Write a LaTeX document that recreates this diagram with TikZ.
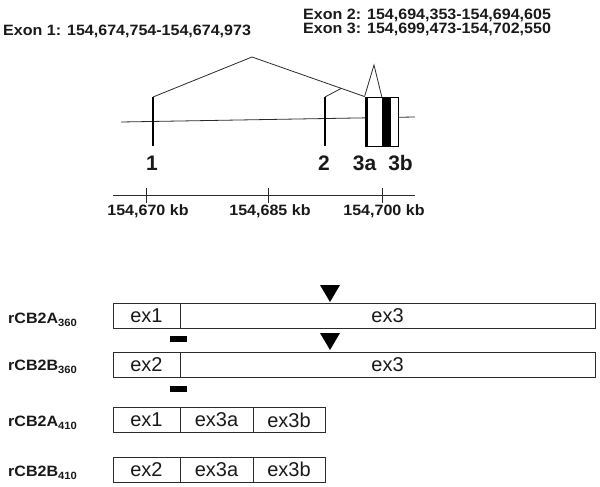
\documentclass[tikz,border=0pt]{standalone}
\usepackage{fontspec}
\setmainfont{Liberation Sans}
\newfontfamily\labelfont[FakeStretch=1.07]{Liberation Sans}
\usetikzlibrary{shapes.geometric, arrows, shapes}
\definecolor{inkgrey}{HTML}{2B2B2B}
\tikzstyle{title} = [anchor=base west, inner sep=0, text=black!90, font=\labelfont\bfseries\fontsize{15}{15}\selectfont]
\tikzstyle{scalelabel} = [anchor=base, inner sep=0, text=black!90, font=\labelfont\bfseries\fontsize{15}{15}\selectfont]
\tikzstyle{exonnum} = [anchor=base, inner sep=0, text=black!90, font=\bfseries\fontsize{21}{21}\selectfont]
\tikzstyle{gene} = [line width=0.8pt, draw=inkgrey]
\tikzstyle{exon} = [line width=1.4pt, draw=black]
\tikzstyle{exbox} = [rectangle, draw=inkgrey, line width=0.9pt, minimum height=25, inner sep=0, text centered, text=black!90, font=\fontsize{20}{20}\selectfont]
\tikzstyle{probe} = [rectangle, fill=black, minimum width=17, minimum height=6, inner sep=0]

\begin{document}
\begin{tikzpicture}[x=1pt, y=-1pt]
\useasboundingbox (0, 0) rectangle (600, 487);

\node at (3, 36) (exon1txt) [title] {Exon 1: 154,674,754-154,674,973};
\node at (303, 20) (exon2txt) [title] {Exon 2: 154,694,353-154,694,605};
\node at (303, 33.5) (exon3txt) [title] {Exon 3: 154,699,473-154,702,550};

\coordinate (lineL) at (121, 122);
\coordinate (lineR) at (415, 117);
\coordinate (ex1top) at (153, 97);
\coordinate (ex1bot) at (153, 146);
\coordinate (ex2top) at (325, 97);
\coordinate (ex2bot) at (325, 146);
\coordinate (peak1) at (252, 57);
\coordinate (join2) at (341, 88.5);
\coordinate (peak3) at (374, 65);

\draw [gene] (lineL) -- (lineR);
\node at (381.5, 121.5) (ex3box) [rectangle, draw=black, line width=0.9pt, fill=white, minimum width=33, minimum height=49, inner sep=0] {};
\node at (386.5, 121.5) (ex3band) [rectangle, fill=black, minimum width=9, minimum height=49, inner sep=0] {};
\draw [line width=3pt] ([xshift=1.5pt]ex3box.south west) -- ([xshift=1.5pt]ex3box.north west);

\draw [exon] (ex1top) -- (ex1bot);
\draw [exon] (ex2top) -- (ex2bot);
\draw [gene] (ex1top) -- (peak1) -- (ex3box.north west);
\draw [gene] (ex2top) -- (join2);
\draw [gene] (ex3box.north west) -- (peak3) -- (ex3band.north west);

\node at (152, 170) (num1) [exonnum] {1};
\node at (324, 170) (num2) [exonnum] {2};
\node at (364.5, 170) (num3a) [exonnum] {3a};
\node at (400.5, 170) (num3b) [exonnum] {3b};

\coordinate (axisL) at (113, 195);
\coordinate (axisR) at (415, 195);
\draw [gene] (axisL) -- (axisR);
\foreach \tx/\tl in {146/154{,}670, 268/154{,}685, 382/154{,}700} {
  \draw [gene] (\tx, 188) -- (\tx, 203);
  \node at (\tx + 2, 215.5) [scalelabel] {\tl\ kb};
}

\node at (8, 323) (a360) [title] {rCB2A\raisebox{-3pt}{\fontsize{10.5}{10.5}\selectfont 360}};
\node at (8, 370) (b360) [title] {rCB2B\raisebox{-3pt}{\fontsize{10.5}{10.5}\selectfont 360}};
\node at (8, 426) (a410) [title] {rCB2A\raisebox{-3pt}{\fontsize{10.5}{10.5}\selectfont 410}};
\node at (8, 476) (b410) [title] {rCB2B\raisebox{-3pt}{\fontsize{10.5}{10.5}\selectfont 410}};

\node at (146.5, 315.5) (a360ex1) [exbox, minimum width=67] {ex1};
\node at (387.5, 315.5) (a360ex3) [exbox, minimum width=415] {ex3};
\node at (146.5, 364.5) (b360ex2) [exbox, minimum width=67] {ex2};
\node at (387.5, 364.5) (b360ex3) [exbox, minimum width=415] {ex3};

\node at (146.5, 420) (a410ex1) [exbox, minimum width=67] {ex1};
\node at (216.5, 420) (a410ex3a) [exbox, minimum width=73] {ex3a};
\node at (289, 420) (a410ex3b) [exbox, minimum width=72] {ex3b};
\node at (146.5, 469.5) (b410ex2) [exbox, minimum width=67] {ex2};
\node at (216.5, 469.5) (b410ex3a) [exbox, minimum width=73] {ex3a};
\node at (289, 469.5) (b410ex3b) [exbox, minimum width=72] {ex3b};

\fill (320, 285) -- (340, 285) -- (330, 302) -- cycle;
\fill (320, 333) -- (340, 333) -- (330, 350) -- cycle;
\node at (178.5, 339) (probe1) [probe] {};
\node at (178.5, 389) (probe2) [probe] {};

\end{tikzpicture}
\end{document}
